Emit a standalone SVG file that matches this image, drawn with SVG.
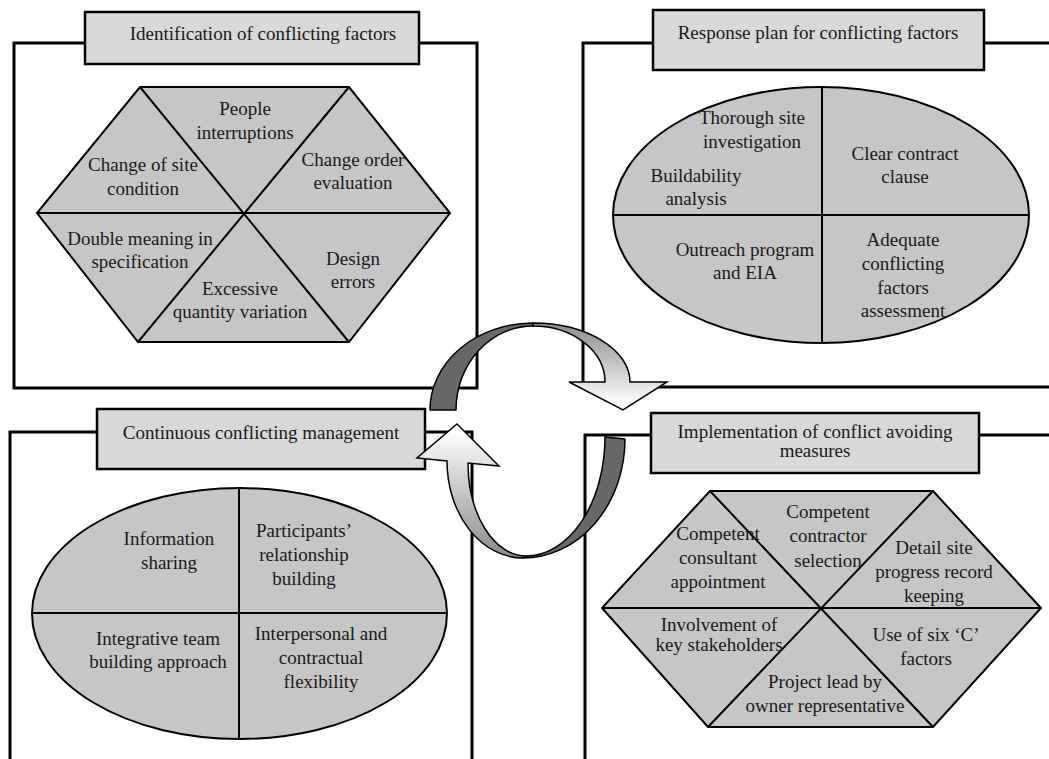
<svg xmlns="http://www.w3.org/2000/svg" width="1049" height="759" viewBox="0 0 1049 759">
<style>
.frame{fill:none;stroke:#000;stroke-width:3}
.title{fill:#d8d8d8;stroke:#000;stroke-width:2.5}
.shape{fill:#c6c6c6;stroke:#000;stroke-width:2;stroke-linejoin:miter}
.div{stroke:#000;stroke-width:2;fill:none}
text{font-family:"Liberation Serif","Times New Roman",serif;font-size:19px;fill:#1a1a1a;text-anchor:middle}
.dark{fill:#686868;stroke:#000;stroke-width:1.5;stroke-linejoin:round}
</style>
<defs>
<linearGradient id="gTop" gradientUnits="userSpaceOnUse" x1="0" y1="323" x2="0" y2="405">
<stop offset="0" stop-color="#8c8c8c"/><stop offset="1" stop-color="#ffffff"/>
</linearGradient>
<linearGradient id="gBot" gradientUnits="userSpaceOnUse" x1="0" y1="430" x2="0" y2="558">
<stop offset="0" stop-color="#ffffff"/><stop offset="1" stop-color="#8a8a8a"/>
</linearGradient>
</defs>
<rect width="1049" height="759" fill="#fff"/>

<g id="panel-identification">
<rect class="frame" x="14" y="43" width="463" height="345"/>
<rect class="title" x="85" y="12" width="334" height="52"/>
<text x="263" y="40">Identification of conflicting factors</text>
<polygon class="shape" points="140,87 349,87 450,213 349,342 138,342 37,213"/>
<line class="div" x1="140" y1="87" x2="349" y2="342"/>
<line class="div" x1="349" y1="87" x2="138" y2="342"/>
<line class="div" x1="37" y1="213" x2="450" y2="213"/>
<text x="245" y="115">People</text><text x="245" y="139">interruptions</text>
<text x="143" y="171">Change of site</text><text x="143" y="195">condition</text>
<text x="353" y="166">Change order</text><text x="353" y="189">evaluation</text>
<text x="140" y="245">Double meaning in</text><text x="140" y="268">specification</text>
<text x="353" y="265">Design</text><text x="353" y="288">errors</text>
<text x="240" y="295">Excessive</text><text x="240" y="318">quantity variation</text>
</g>

<g id="panel-response">
<rect class="frame" x="583" y="43" width="480" height="344"/>
<rect class="title" x="653" y="10" width="331" height="60"/>
<text x="818" y="39">Response plan for conflicting factors</text>
<ellipse class="shape" cx="821" cy="215" rx="208" ry="128"/>
<line class="div" x1="822" y1="87" x2="822" y2="343"/>
<line class="div" x1="613" y1="215" x2="1029" y2="215"/>
<text x="752" y="124">Thorough site</text><text x="752" y="148">investigation</text>
<text x="696" y="182">Buildability</text><text x="696" y="205">analysis</text>
<text x="905" y="160">Clear contract</text><text x="905" y="183">clause</text>
<text x="745" y="256">Outreach program</text><text x="745" y="279">and EIA</text>
<text x="903" y="246">Adequate</text><text x="903" y="270">conflicting</text><text x="903" y="294">factors</text><text x="903" y="317">assessment</text>
</g>

<g id="panel-continuous">
<rect class="frame" x="10" y="432" width="462" height="340"/>
<rect class="title" x="97" y="409" width="328" height="60"/>
<text x="261" y="439">Continuous conflicting management</text>
<ellipse class="shape" cx="239.5" cy="613.5" rx="207.5" ry="125.5"/>
<line class="div" x1="239" y1="488" x2="239" y2="739"/>
<line class="div" x1="32" y1="613" x2="447" y2="613"/>
<text x="169" y="545">Information</text><text x="169" y="569">sharing</text>
<text x="304" y="537">Participants’</text><text x="304" y="561">relationship</text><text x="304" y="585">building</text>
<text x="158" y="645">Integrative team</text><text x="158" y="668">building approach</text>
<text x="321" y="640">Interpersonal and</text><text x="321" y="664">contractual</text><text x="321" y="688">flexibility</text>
</g>

<g id="panel-implementation">
<rect class="frame" x="585" y="435" width="480" height="340"/>
<rect class="title" x="651" y="413" width="328" height="60"/>
<text x="815" y="438">Implementation of conflict avoiding</text>
<text x="815" y="457">measures</text>
<polygon class="shape" points="710,491 933,491 1041,608 933,727 708,727 602,608"/>
<line class="div" x1="710" y1="491" x2="933" y2="727"/>
<line class="div" x1="933" y1="491" x2="708" y2="727"/>
<line class="div" x1="602" y1="608" x2="1041" y2="608"/>
<text x="718" y="540">Competent</text><text x="718" y="564">consultant</text><text x="718" y="588">appointment</text>
<text x="828" y="518">Competent</text><text x="828" y="542">contractor</text><text x="828" y="567">selection</text>
<text x="934" y="554">Detail site</text><text x="934" y="578">progress record</text><text x="934" y="602">keeping</text>
<text x="719" y="631">Involvement of</text><text x="719" y="651">key stakeholders</text>
<text x="926" y="641">Use of six ‘C’</text><text x="926" y="665">factors</text>
<text x="825" y="688">Project lead by</text><text x="825" y="712">owner representative</text>
</g>

<g id="connectors">
<path class="dark" d="M430,410 A103,87 0 0 1 533,323 L533,326 A77,84 0 0 0 456,410 Z"/>
<path fill="url(#gTop)" stroke="#000" stroke-width="1.5" stroke-linejoin="miter" d="M533,323 A97,59 0 0 1 630,382 L667,382 L623,410 L569,382 L605,382 A72,56 0 0 0 533,326 Z"/>
<path class="dark" d="M523,558 A102,119 0 0 0 625,439 L605,437 A79,119 0 0 1 526,556 Z"/>
<path fill="url(#gBot)" stroke="#000" stroke-width="1.5" stroke-linejoin="miter" d="M457,424 L499,466 L468,463 A58,93 0 0 0 526,556 L523,558 A76,97 0 0 1 447,461 L417,458 Z"/>
</g>
</svg>
